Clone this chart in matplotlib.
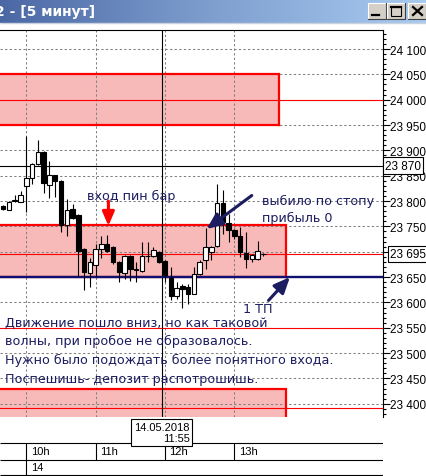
import matplotlib
matplotlib.use('Agg')
import matplotlib.pyplot as plt
import numpy as np
from matplotlib.patches import Rectangle
from matplotlib.colors import LinearSegmentedColormap
from matplotlib.ticker import MultipleLocator, FuncFormatter, FixedLocator

# 5 minute bars, 14.05.2018
times = ['09:40', '09:45', '09:50', '09:55', '10:00', '10:05', '10:10', '10:15', '10:20', '10:25',
         '10:30', '10:35', '10:40', '10:45', '10:50', '10:55', '11:00', '11:05', '11:10', '11:15',
         '11:20', '11:25', '11:30', '11:35', '11:40', '11:45', '11:50', '11:55', '12:00', '12:05',
         '12:10', '12:15', '12:20', '12:25', '12:30', '12:35', '12:40', '12:45', '12:50', '12:55',
         '13:00', '13:05', '13:10', '13:15', '13:20', '13:25']
opens = [23791, 23783, 23800, 23799, 23829, 23845, 23873, 23897, 23832, 23851,
         23840, 23752, 23784, 23773, 23706, 23658, 23673, 23706, 23715, 23709,
         23679, 23658, 23691, 23664, 23663, 23691, 23691, 23699, 23681, 23648,
         23612, 23632, 23630, 23617, 23656, 23684, 23700, 23712, 23796, 23757,
         23742, 23731, 23698, 23685, 23686, 23695]
highs = [23793, 23801, 23812, 23819, 23928, 23876, 23921, 23899, 23879, 23852,
         23842, 23804, 23794, 23775, 23708, 23687, 23716, 23732, 23733, 23712,
         23681, 23693, 23693, 23679, 23719, 23719, 23709, 23701, 23683, 23670,
         23640, 23636, 23637, 23670, 23684, 23746, 23712, 23834, 23821, 23775,
         23744, 23749, 23738, 23696, 23722, 23698]
lows = [23782, 23782, 23798, 23798, 23779, 23834, 23872, 23815, 23806, 23808,
        23739, 23732, 23764, 23653, 23625, 23630, 23653, 23687, 23700, 23676,
        23641, 23646, 23643, 23641, 23660, 23679, 23689, 23677, 23640, 23604,
        23606, 23589, 23597, 23616, 23654, 23666, 23683, 23710, 23735, 23719,
        23725, 23690, 23668, 23680, 23684, 23692]
closes = [23784, 23799, 23802, 23812, 23845, 23873, 23896, 23835, 23852, 23840,
          23752, 23783, 23766, 23702, 23661, 23679, 23705, 23715, 23702, 23679,
          23661, 23691, 23665, 23665, 23691, 23692, 23703, 23679, 23655, 23612,
          23628, 23627, 23617, 23656, 23679, 23710, 23709, 23796, 23758, 23742,
          23731, 23700, 23685, 23694, 23702, 23696]

# zones (price low, price high, end in bars from 10:00)
zone_lo = [23950, 23650, 23330]
zone_hi = [24050, 23752, 23430]
zone_end = [43.7, 44.9, 44.9]

red_levels = [24000, 23695, 23550, 23392]
tp_level = 23650
cross_price = 23870
cross_time = '11:55'
last_price = 23695
pin_time = '11:10'

hour_labels = ['10h', '11h', '12h', '13h']
day_label = '14'
date_label = '14.05.2018'

navy = '#1c1c60'
pink = '#f8b9b9'

W, H = 427, 477
fig = plt.figure(figsize=(W / 100, H / 100), dpi=100)
fig.patch.set_facecolor('white')

t0 = times.index('10:00')
idx = np.arange(len(times)) - t0
o = np.array(opens); c = np.array(closes)
hi = np.array(highs); lo = np.array(lows)

# ---- main chart ----
ax = fig.add_axes([0, 59 / H, 383 / W, 387 / H])
ax.set_xlim(-4.55, 61.7)
ax.set_ylim(23374, 24137.5)

for s in ['left', 'bottom']:
    ax.spines[s].set_visible(False)
for s in ['top', 'right']:
    ax.spines[s].set_linewidth(0.8)

hour_pos = [(int(h[:-1]) - 10) * 12 for h in hour_labels]
ax.xaxis.set_major_locator(FixedLocator(hour_pos))
ax.tick_params(axis='x', length=0, labelbottom=False)


def price_fmt(v, p):
    # the last price box takes the place of the nearest label
    if abs(v - last_price) < 10:
        return ''
    return '{:,.0f}'.format(v).replace(',', ' ')


ax.yaxis.tick_right()
ax.yaxis.set_major_locator(MultipleLocator(50))
ax.yaxis.set_minor_locator(MultipleLocator(10))
ax.yaxis.set_major_formatter(FuncFormatter(price_fmt))
ax.tick_params(axis='y', which='major', length=4.7, width=0.8, pad=0.5, labelsize=8.5)
ax.tick_params(axis='y', which='minor', length=2.4, width=0.8)
for lab in ax.get_yticklabels():
    lab.set_family('Liberation Sans')

ax.set_axisbelow(True)
ax.grid(True, color='#808080', linestyle=(0, (2.2, 2.2)), linewidth=0.75)

xl = ax.get_xlim()
for zlo, zhi, zend in zip(zone_lo, zone_hi, zone_end):
    ax.add_patch(Rectangle((xl[0] - 5, zlo), zend - xl[0] + 5, zhi - zlo,
                           facecolor=pink, edgecolor='none', zorder=0.3))
    ax.plot([xl[0] - 5, zend, zend], [zhi, zhi, zlo], color='red', lw=1.6,
            zorder=1.5, solid_joinstyle='miter')
    ax.plot([xl[0] - 5, zend], [zlo, zlo], color='red', lw=1.6, zorder=1.5)

ax.axhline(cross_price, color='black', lw=0.8, zorder=1.6)
for lv in red_levels:
    ax.axhline(lv, color='red', lw=0.8, zorder=1.6)
ax.axhline(tp_level, color='#101070', lw=1.7, zorder=1.7)
kc = times.index(cross_time) - t0
ax.axvline(kc + 0.43, color='black', lw=0.8, zorder=1.6)

# candles
ax.vlines(idx, lo, hi, color='black', lw=0.8, zorder=3)
up = c >= o
body_lo = np.minimum(o, c)
body_h = np.maximum(np.abs(c - o), 0.8)
ax.bar(idx[up], body_h[up], bottom=body_lo[up], width=0.78, color='white',
       edgecolor='black', linewidth=0.8, zorder=3.2)
ax.bar(idx[~up], body_h[~up], bottom=body_lo[~up], width=0.78, color='black',
       edgecolor='black', linewidth=0.8, zorder=3.2)

# annotations
kp = times.index(pin_time) - t0
ax.annotate('', xy=(kp + 0.2, 23751), xytext=(kp + 0.2, 23800),
            arrowprops=dict(arrowstyle='-|>,head_width=0.3,head_length=0.7', lw=2.2,
                            color='red', shrinkA=0, shrinkB=0, mutation_scale=12), zorder=5)
ax.annotate('', xy=(31.2, 23745), xytext=(39.0, 23811),
            arrowprops=dict(arrowstyle='-|>,head_width=0.35,head_length=0.8', lw=2.2,
                            color=navy, shrinkA=0, shrinkB=0, mutation_scale=12), zorder=5)
ax.annotate('', xy=(45.6, 23650), xytext=(41.9, 23604),
            arrowprops=dict(arrowstyle='-|>,head_width=0.35,head_length=0.8', lw=2.2,
                            color=navy, shrinkA=0, shrinkB=0, mutation_scale=12), zorder=5)

tk = dict(color=navy, fontsize=9.2, family='DejaVu Sans', va='baseline', ha='left', zorder=6)
ax.text(10.55, 23804, 'вход пин бар', **tk)
ax.text(40.73, 23794, 'выбило по стопу', **tk)
ax.text(40.73, 23761, 'прибыль 0', **tk)
ax.text(37.54, 23581, '1 ТП', **tk)
block = ['Движение пошло вниз, но как таковой',
         'волны, при пробое не образовалось.',
         'Нужно было подождать более понятного входа.',
         'Поспешишь- депозит распотрошишь.']
for line, yb in zip(block, [23554, 23518, 23481, 23444]):
    ax.text(-3.69, yb, line, **tk)

yt = ax.get_yaxis_transform()
box = dict(boxstyle='square,pad=0.18', fc='white', ec='black', lw=0.8)
ax.text(1.006, cross_price, '23 870', transform=yt, ha='left', va='center', fontsize=8.5,
        family='Liberation Sans', bbox=box, clip_on=False, zorder=7)
ax.text(1.019, last_price, '23 695', transform=yt, ha='left', va='center', fontsize=8.5,
        family='Liberation Sans', bbox=box, clip_on=False, zorder=7)

# ---- time scale ----
axt = fig.add_axes([0, 0, 383 / W, 59 / H])
axt.set_xlim(ax.get_xlim())
axt.set_ylim(477, 418)
axt.axis('off')
axt.hlines([444, 460.7, 476.5], xl[0], xl[1], color='black', lw=0.8)
axt.vlines(hour_pos[0], 444, 477, color='black', lw=0.8)
axt.vlines(hour_pos[1:], 444, 460.7, color='black', lw=0.8)
for hp, hl in zip(hour_pos, hour_labels):
    axt.text(hp + 0.75, 452.5, hl, fontsize=8, family='Liberation Sans', va='center', ha='left')
axt.text(hour_pos[0] + 0.75, 468.5, day_label, fontsize=8, family='Liberation Sans',
         va='center', ha='left')
axt.text(kc + 0.43, 433.5, date_label + '\n' + cross_time, fontsize=8, family='Liberation Sans',
         ha='center', va='center', multialignment='right', linespacing=1.15,
         bbox=dict(boxstyle='square,pad=0.25', fc='white', ec='black', lw=0.8), zorder=5)

# ---- window title bar ----
ov = fig.add_axes([0, 0, 1, 1], zorder=10)
ov.axis('off')
cmap = LinearSegmentedColormap.from_list('tb', ['#4b68a5', '#7f9fcf', '#a8cbf1'])
ov.imshow(np.linspace(0, 1, 256)[None, :], extent=[0, W, 23.5, 0], aspect='auto', cmap=cmap)
ov.set_xlim(0, W)
ov.set_ylim(H, 0)
ov.hlines(24, 0, W, color='#c9d3e0', lw=1)
ov.text(-5, 12, '2 - [5 минут]', color='white', fontsize=10, fontweight='bold',
        family='DejaVu Sans', va='center', ha='left')
for bx in [368, 387, 408.5]:
    ov.add_patch(Rectangle((bx, 4), 18, 16, fc='#d4d0c8', ec='none'))
    ov.plot([bx, bx, bx + 18], [20, 4, 4], color='white', lw=0.8)
    ov.plot([bx, bx + 18, bx + 18], [20, 20, 4], color='#404040', lw=0.8)
ov.plot([372, 379], [16, 16], color='black', lw=1.6)
ov.add_patch(Rectangle((391, 7.5), 10, 9, fc='none', ec='black', lw=0.8))
ov.plot([391, 401], [8, 8], color='black', lw=1.6)
ov.plot([413, 422], [8, 16], color='black', lw=1.6)
ov.plot([413, 422], [16, 8], color='black', lw=1.6)

fig.savefig('out.png', dpi=100)
